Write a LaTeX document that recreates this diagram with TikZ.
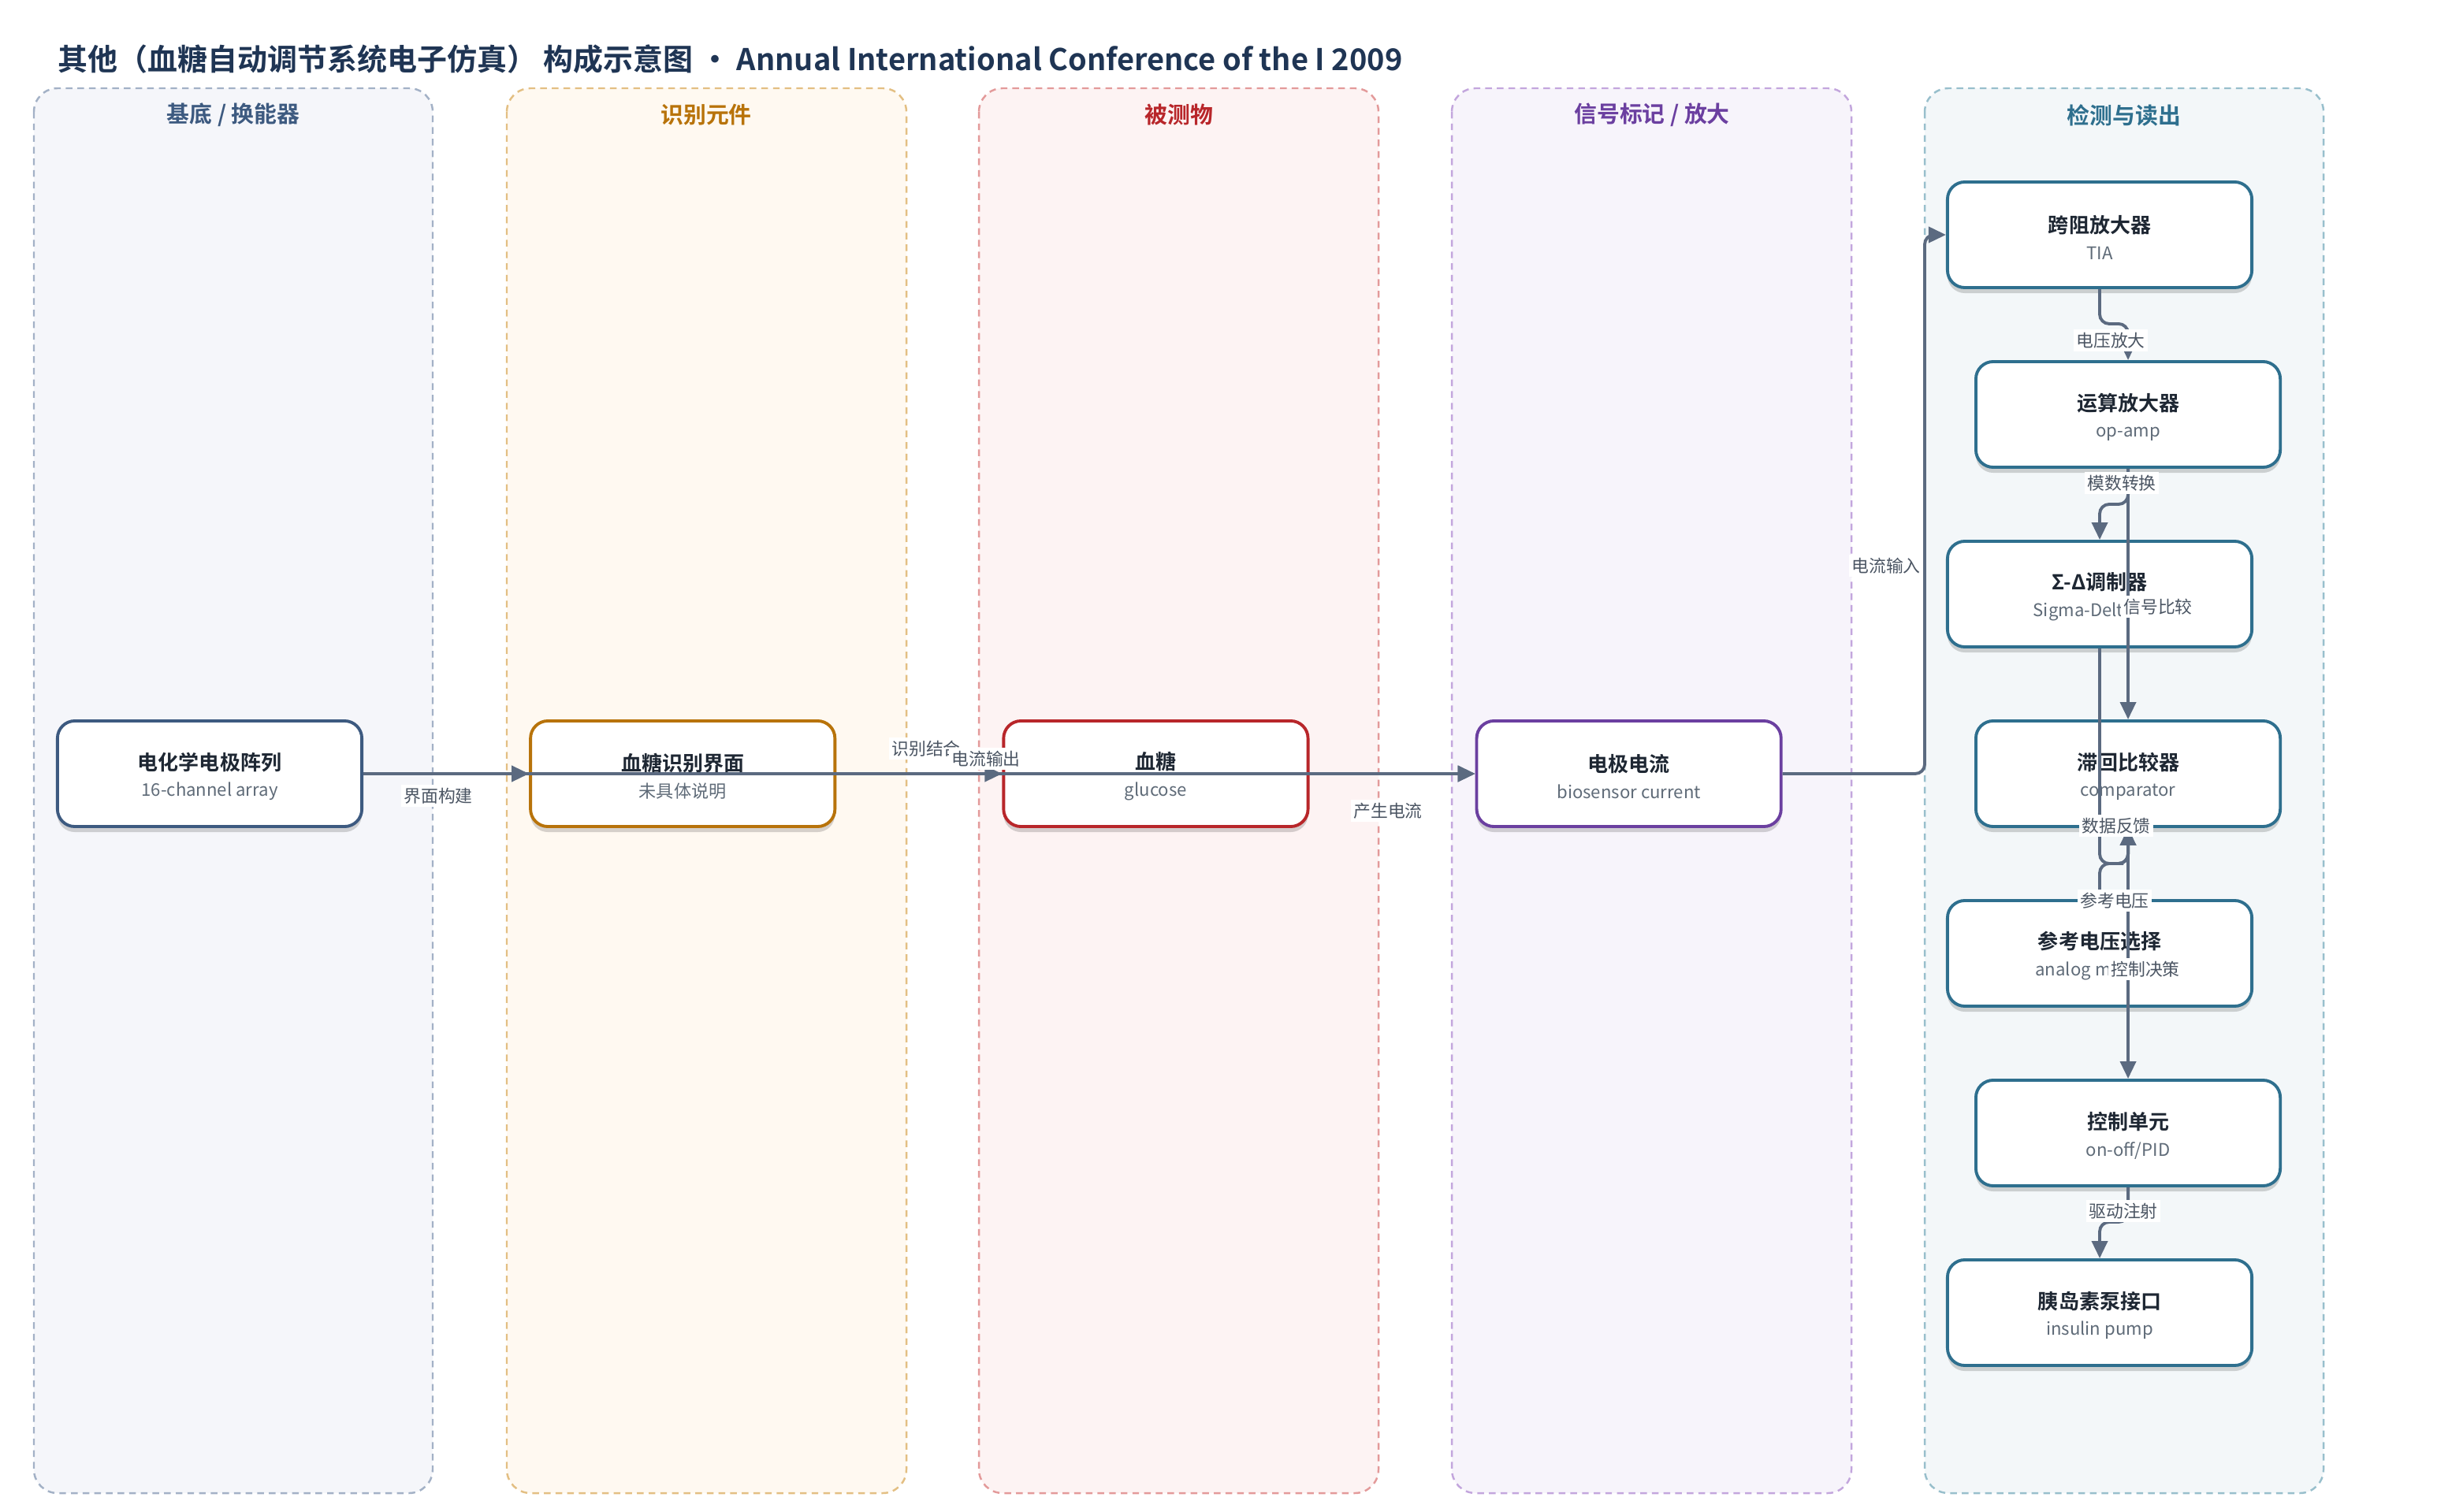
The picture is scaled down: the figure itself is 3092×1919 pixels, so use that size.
\documentclass[tikz,border=0pt]{standalone}
\usepackage{fontspec}
\setmainfont{Noto Sans CJK SC}[BoldFont={Noto Sans CJK SC Bold}]
\usepackage{tikz}
\usetikzlibrary{positioning,arrows.meta,shadows,calc}

\definecolor{titlec}{HTML}{1F3554}
\definecolor{ttlc}{HTML}{1E2733}
\definecolor{subc}{HTML}{5F6B78}
\definecolor{edgec}{HTML}{5B6A80}
\definecolor{lblc}{HTML}{4B5563}
% lane colours
\definecolor{laneAhead}{HTML}{3D5A80}\definecolor{laneAline}{HTML}{A3B1C6}\definecolor{laneAfill}{HTML}{F5F6FA}
\definecolor{laneBhead}{HTML}{B8730A}\definecolor{laneBline}{HTML}{E3BF83}\definecolor{laneBfill}{HTML}{FFF9F1}
\definecolor{laneChead}{HTML}{B8262A}\definecolor{laneCline}{HTML}{E39A9A}\definecolor{laneCfill}{HTML}{FDF3F3}
\definecolor{laneDhead}{HTML}{6B3FA0}\definecolor{laneDline}{HTML}{C3A6DD}\definecolor{laneDfill}{HTML}{F7F4FB}
\definecolor{laneEhead}{HTML}{2E6F8E}\definecolor{laneEline}{HTML}{98BFCC}\definecolor{laneEfill}{HTML}{F3F7F9}

\pgfdeclarelayer{background}
\pgfdeclarelayer{foreground}
\pgfsetlayers{background,main,foreground}

\newcommand{\blk}[2]{\rule{0pt}{8.3pt}{\bfseries\color{ttlc}#1}\\{\fontsize{6.3}{9.6}\selectfont\color{subc}#2}}

\tikzset{
	block/.style={draw=#1, line width=1.1pt, rounded corners=0.22cm, fill=white,
		minimum width=3.86cm, minimum height=1.34cm, align=center, inner sep=2pt,
		font=\fontsize{7.4}{9.6}\selectfont,
		drop shadow={shadow xshift=0pt, shadow yshift=-0.07cm, opacity=0.16, fill=black}},
	flow/.style={draw=edgec, line width=1.1pt, rounded corners=0.12cm,
		-{Triangle[length=0.22cm,width=0.2cm]}},
	lbl/.style={fill=white, text=lblc, inner sep=1pt, font=\fontsize{6.2}{7}\selectfont},
	lanebox/.style={line width=0.7pt, dash pattern=on 2.4pt off 1.8pt, rounded corners=0.3cm},
	lanehead/.style={font=\bfseries\fontsize{8.2}{10}\selectfont}
}

\begin{document}
\begin{tikzpicture}[auto,node distance=2.1cm,x=0.01cm,y=-0.01cm]
	\useasboundingbox (0,0) rectangle (3092,1919);
	\node[anchor=west, text=titlec, font=\bfseries\fontsize{10.8}{12}\selectfont] (title) at (61,75)
		{其他（血糖自动调节系统电子仿真） 构成示意图 • Annual International Conference of the I 2009};
	% Lanes behind everything
	\begin{pgfonlayer}{background}
		\draw[lanebox, draw=laneAline, fill=laneAfill] (43,112) rectangle (549,1895);
		\draw[lanebox, draw=laneBline, fill=laneBfill] (643,112) rectangle (1150,1895);
		\draw[lanebox, draw=laneCline, fill=laneCfill] (1242,112) rectangle (1749,1895);
		\draw[lanebox, draw=laneDline, fill=laneDfill] (1842,112) rectangle (2349,1895);
		\draw[lanebox, draw=laneEline, fill=laneEfill] (2442,112) rectangle (2948,1895);
	\end{pgfonlayer}
	\node[lanehead, text=laneAhead] (headA) at (296,146) {基底 / 换能器};
	\node[lanehead, text=laneBhead] (headB) at (896,146) {识别元件};
	\node[lanehead, text=laneChead] (headC) at (1496,146) {被测物};
	\node[lanehead, text=laneDhead] (headD) at (2096,146) {信号标记 / 放大};
	\node[lanehead, text=laneEhead] (headE) at (2695,146) {检测与读出};
	% The sensing chain, left to right
	\node[block=laneAhead] (array) at (266,982) {\blk{电化学电极阵列}{16-channel array}};
	\node[block=laneBhead] (iface) [right = of array] {\blk{血糖识别界面}{未具体说明}};
	\node[block=laneChead] (glucose) [right = of iface] {\blk{血糖}{glucose}};
	\node[block=laneDhead] (current) [right = of glucose] {\blk{电极电流}{biosensor current}};
	% Now the read-out column, top to bottom
	\node[block=laneEhead] (tia) at (2664,298) {\blk{跨阻放大器}{TIA}};
	\node[block=laneEhead] (opamp) [below = 0.9cm of tia, xshift=0.36cm] {\blk{运算放大器}{op-amp}};
	\node[block=laneEhead] (sdm) [below = 0.9cm of opamp, xshift=-0.36cm] {\blk{Σ-Δ调制器}{Sigma-Delt\hspace*{0.54cm}}};
	\node[block=laneEhead] (cmp) [below = 0.9cm of sdm, xshift=0.36cm] {\blk{滞回比较器}{comparator}};
	\node[block=laneEhead] (vref) [below = 0.9cm of cmp, xshift=-0.36cm] {\blk{参考电压选择}{analog m\hspace*{0.67cm}}};
	\node[block=laneEhead] (ctrl) [below = 0.9cm of vref, xshift=0.36cm] {\blk{控制单元}{on-off/PID}};
	\node[block=laneEhead] (pump) [below = 0.9cm of ctrl, xshift=-0.36cm] {\blk{胰岛素泵接口}{insulin pump}};
	\coordinate (tap) at (2442,298);
	\coordinate (fbk) at ($(cmp.south)!0.5!(vref.north)$);
	% Draw the edges over the boxes
	\path (array) edge[flow] (iface)
				edge[flow] (current);
	\path (iface) edge[flow] (glucose);
	\path (glucose) edge[flow] (current);
	\draw[flow] (current.east) -| (tap) -- (tia.west);
	\draw[flow] (tia.south) -- ++(0,44) -| (opamp.north);
	\draw[flow] (opamp.south) -- ++(0,45) -| (sdm.north);
	\draw[flow] (opamp.south) -- (cmp.north);
	\draw[flow] (sdm.south) |- (fbk) -| (cmp.south);
	\draw[flow] (vref.north) |- (fbk) -| (cmp.south);
	\draw[flow] (cmp.south) -- (ctrl.north);
	\draw[flow] (ctrl.south) -- ++(0,44) -| (pump.north);
	% Edge labels on top
	\begin{pgfonlayer}{foreground}
		\node[lbl] (lbuild) at (556,1010) {界面构建};
		\node[lbl] (lbind) at (1175,950) {识别结合};
		\node[lbl] (lout) at (1251,963) {电流输出};
		\node[lbl] (lgen) at (1761,1029) {产生电流};
		\node[lbl] (lin) at (2393,718) {电流输入};
		\node[lbl] (lamp) at (2678,432) {电压放大};
		\node[lbl] (ladc) at (2692,613) {模数转换};
		\node[lbl] (lcmp) at (2738,770) {信号比较};
		\node[lbl] (lfb) at (2685,1048) {数据反馈};
		\node[lbl] (lref) at (2683,1143) {参考电压};
		\node[lbl] (ldec) at (2722,1230) {控制决策};
		\node[lbl] (ldrv) at (2694,1537) {驱动注射};
	\end{pgfonlayer}
\end{tikzpicture}
\end{document}
